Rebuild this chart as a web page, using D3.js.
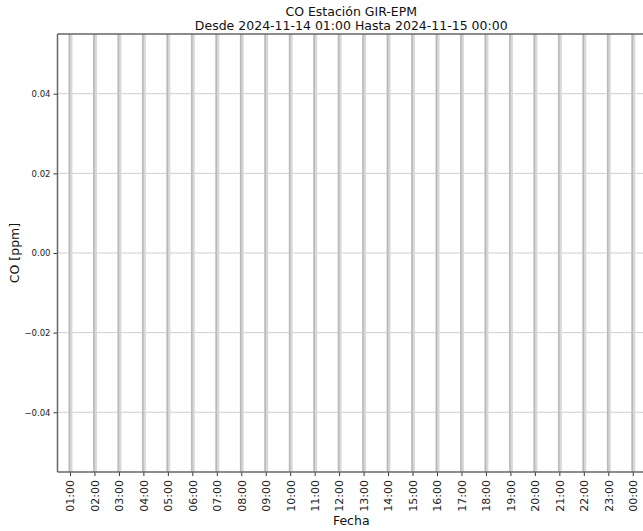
<!DOCTYPE html>
<html>
<head>
  <meta charset="UTF-8">
  <style>
body {
    margin: 0;
    padding: 0;
    background-color: white;
}
svg {
    display: block;
    font-family: "DejaVu Sans", sans-serif;
}
  </style>
</head>
<body>
<svg></svg>

<script src="https://cdnjs.cloudflare.com/ajax/libs/d3/7.8.5/d3.min.js"></script>
<script>

// chart data
let titleLines = ["CO Estación GIR-EPM", "Desde 2024-11-14 01:00 Hasta 2024-11-15 00:00"];
let hourTicks = d3.range(1, 25);   // 01:00 .. 00:00 (next day)
let yTicks = [-0.04, -0.02, 0.00, 0.02, 0.04];
let yDomain = [-0.055, 0.055];
let xDomain = [0.49, 24.5];
let yLabel = "CO [ppm]";
let xLabel = "Fecha";

let width = 643, height = 531;
let margin = { top: 34, left: 57.5, bottom: 59, right: -2 };

let svg = d3.select("svg")
    .attr("width", width)
    .attr("height", height);

let x = d3.scaleLinear()
    .domain(xDomain)
    .range([margin.left, width - margin.right]);

let y = d3.scaleLinear()
    .domain(yDomain)
    .range([height - margin.bottom, margin.top]);

let fmtHour = h => String(h % 24).padStart(2, "0") + ":00";

// horizontal grid
svg.append("g")
  .selectAll("line")
  .data(yTicks)
  .enter()
  .append("line")
  .attr("x1", margin.left)
  .attr("x2", width)
  .attr("y1", d => y(d))
  .attr("y2", d => y(d))
  .attr("stroke", "#cfcfcf")
  .attr("stroke-width", 1);

// vertical hour bands + grid lines
let vg = svg.append("g");
vg.selectAll("line.band")
  .data(hourTicks)
  .enter()
  .append("line")
  .attr("class", "band")
  .attr("x1", d => x(d) + 0.5)
  .attr("x2", d => x(d) + 0.5)
  .attr("y1", margin.top)
  .attr("y2", height - margin.bottom)
  .attr("stroke", "#d9d9d9")
  .attr("stroke-width", 4);

vg.selectAll("line.grid")
  .data(hourTicks)
  .enter()
  .append("line")
  .attr("class", "grid")
  .attr("x1", d => x(d) - 0.5)
  .attr("x2", d => x(d) - 0.5)
  .attr("y1", margin.top)
  .attr("y2", height - margin.bottom)
  .attr("stroke", "#b8b8b8")
  .attr("stroke-width", 1.5);

// x axis
let xAxis = svg.append("g")
  .attr("transform", `translate(0, ${height - margin.bottom})`)
  .call(d3.axisBottom(x).tickValues(hourTicks).tickFormat(fmtHour).tickSize(4).tickPadding(4));

xAxis.select(".domain").remove();
xAxis.selectAll(".tick line").attr("stroke", "#333").attr("stroke-width", 1);
xAxis.selectAll(".tick text")
  .attr("font-family", "DejaVu Sans")
  .attr("font-size", "11px")
  .attr("fill", "#222")
  .attr("text-anchor", "end")
  .attr("transform", "rotate(-90)")
  .attr("x", -8)
  .attr("y", 0)
  .attr("dy", "0.35em");

// y axis
let yAxis = svg.append("g")
  .attr("transform", `translate(${margin.left}, 0)`)
  .call(d3.axisLeft(y).tickValues(yTicks)
    .tickFormat(d => d === 0 ? "0.00" : d3.format(".2f")(d).replace("-", "\u2212"))
    .tickSize(4).tickPadding(3));

yAxis.select(".domain").remove();
yAxis.selectAll(".tick line").attr("stroke", "#333").attr("stroke-width", 1);
yAxis.selectAll(".tick text")
  .attr("font-family", "DejaVu Sans")
  .attr("font-size", "8.5px")
  .attr("fill", "#222");

// spines
svg.append("line")
  .attr("x1", margin.left).attr("x2", margin.left)
  .attr("y1", margin.top).attr("y2", height - margin.bottom)
  .attr("stroke", "#666").attr("stroke-width", 1.5);
svg.append("line")
  .attr("x1", margin.left).attr("x2", width)
  .attr("y1", margin.top).attr("y2", margin.top)
  .attr("stroke", "#666").attr("stroke-width", 1.5);
svg.append("line")
  .attr("x1", margin.left).attr("x2", width)
  .attr("y1", height - margin.bottom).attr("y2", height - margin.bottom)
  .attr("stroke", "#666").attr("stroke-width", 1.5);

// title
let cx = (margin.left + x.range()[1]) / 2;
svg.append("g")
  .selectAll("text")
  .data(titleLines)
  .enter()
  .append("text")
  .attr("x", cx)
  .attr("y", (d, i) => 16 + i * 13.5)
  .attr("text-anchor", "middle")
  .attr("font-family", "DejaVu Sans")
  .attr("font-size", "12.5px")
  .attr("fill", "#111")
  .text(d => d);

// axis labels
svg.append("text")
  .attr("transform", `translate(19, ${y(0)}) rotate(-90)`)
  .attr("text-anchor", "middle")
  .attr("font-family", "DejaVu Sans")
  .attr("font-size", "12.5px")
  .attr("fill", "#111")
  .text(yLabel);

svg.append("text")
  .attr("x", cx)
  .attr("y", 525)
  .attr("text-anchor", "middle")
  .attr("font-family", "DejaVu Sans")
  .attr("font-size", "12.5px")
  .attr("fill", "#111")
  .text(xLabel);

</script>
</body>
</html>
